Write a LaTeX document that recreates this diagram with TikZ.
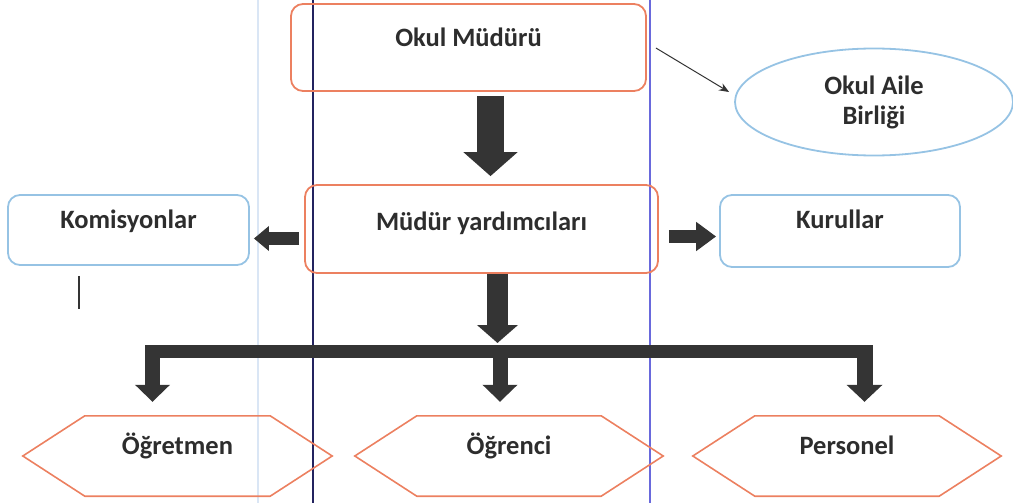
\documentclass[tikz,border=0pt]{standalone}
\usepackage{fontspec}
\setmainfont{Carlito}
\usetikzlibrary{arrows.meta,shapes.geometric}
\definecolor{orline}{RGB}{236,128,96}
\definecolor{blline}{RGB}{150,195,228}
\definecolor{arrc}{RGB}{52,52,52}
\definecolor{txt}{RGB}{45,45,45}
\definecolor{navyl}{RGB}{35,35,95}
\definecolor{bluel}{RGB}{105,105,220}
\definecolor{faintl}{RGB}{218,230,245}
\begin{document}
\begin{tikzpicture}[x=1pt,y=-1pt,
  lbl/.style={font=\fontsize{26.5}{30}\selectfont\bfseries, text=txt},
  obox/.style={lbl, draw=orline, line width=1.8pt, rounded corners=12pt, inner sep=0pt, text height=18pt},
  bbox/.style={lbl, draw=blline, line width=1.8pt, rounded corners=12pt, inner sep=0pt, text height=18pt},
  hexbox/.style={lbl, draw=none, inner sep=0pt, minimum width=308pt, minimum height=80pt, text height=18pt, text depth=21pt},
  hexline/.style={draw=orline, line width=1.6pt, line join=miter},
  fatarrow/.style={draw=arrc, line width=#1},
  scanline/.style={line width=1.1pt}
]
\useasboundingbox (0,0) rectangle (1013,503);

% scan lines
\draw[scanline, faintl] (258,0) -- (258,503);
\draw[scanline, navyl, line width=1.3pt] (313,0) -- (313,503);
\draw[scanline, bluel] (650,0) -- (650,503);

% nodes
\node[obox, minimum width=355pt, minimum height=87pt, text depth=19pt] (om) at (468.5,47.5) {Okul Müdürü};
\node[obox, minimum width=353pt, minimum height=88pt, text depth=16pt] (my) at (481.5,229) {Müdür yardımcıları};
\node[bbox, minimum width=241pt, minimum height=70pt, text depth=22pt] (kom) at (128.5,230) {Komisyonlar};
\node[bbox, minimum width=240pt, minimum height=72pt, text depth=24pt] (kur) at (840,231) {Kurullar};
\node[lbl, ellipse, draw=blline, line width=1.8pt, minimum width=278pt, minimum height=107pt, inner sep=0pt, align=center] (oab) at (874,102) {Okul Aile\\Birliği};

\node[hexbox, minimum width=309pt] (og) at (177.5,456) {Öğretmen};
\node[hexbox] (oc) at (509,456) {Öğrenci};
\node[hexbox] (pe) at (847,456) {Personel};
\foreach \h in {og,oc,pe}{
  \draw[hexline] (\h.west) -- ([xshift=62pt]\h.north west) -- ([xshift=-62pt]\h.north east) -- (\h.east)
    -- ([xshift=-62pt]\h.south east) -- ([xshift=62pt]\h.south west) -- cycle;
}

% small tick under Komisyonlar
\draw[arrc, line width=1.4pt] ([shift={(-49.5pt,-10pt)}]kom.south) -- ++(0,33);

% arrows
\draw[fatarrow=27pt, -{Triangle[width=53pt,length=24pt]}, shorten <=4pt, shorten >=8pt]
  ([xshift=22pt]om.south) -- ([xshift=9pt]my.north);
\draw[fatarrow=13pt, -{Triangle[width=24pt,length=15pt]}, shorten <=5pt, shorten >=4pt]
  ([yshift=-9.5pt]my.west) -- ([yshift=-8.5pt]kom.east);
\draw[fatarrow=13pt, -{Triangle[width=28pt,length=20pt]}, shorten <=10pt, shorten >=3pt]
  ([yshift=-7.5pt]my.east) -- ([yshift=-5.5pt]kur.west);
\draw[arrc, line width=1pt, -{Stealth[length=10pt,width=8pt]}]
  ([shift={(9pt,-0.5pt)}]om.east) -- ([shift={(-5pt,10pt)}]oab.west);

\coordinate (jC) at (497.5,345);
\draw[fatarrow=21pt, -{Triangle[width=40pt,length=18pt]}, shorten >=2pt]
  ([xshift=16pt]my.south) -- (jC);

\coordinate (bL) at (145,351.5);
\coordinate (bR) at (873,351.5);
\draw[fatarrow=13pt] (bL) -- (bR);

\coordinate (dL) at (152.5,345);
\coordinate (dC) at (500,345);
\coordinate (dR) at (864.5,345);
\draw[fatarrow=15pt, -{Triangle[width=34pt,length=17pt]}, shorten >=14pt] (dL) -- (dL |- og.north);
\draw[fatarrow=15pt, -{Triangle[width=34pt,length=17pt]}, shorten >=14pt] (dC) -- (dC |- oc.north);
\draw[fatarrow=16pt, -{Triangle[width=35pt,length=17pt]}, shorten >=14pt] (dR) -- (dR |- pe.north);
\end{tikzpicture}
\end{document}
